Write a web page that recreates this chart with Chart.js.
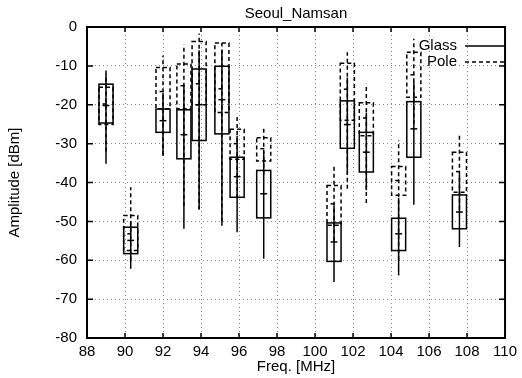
<!DOCTYPE html>
<html>
<head>
<meta charset="utf-8">
<script src="https://cdn.jsdelivr.net/npm/chart.js@4.4.1/dist/chart.umd.min.js"></script>
<style>
  html, body { margin: 0; padding: 0; background: #fff; }
  #wrap { width: 522px; height: 378px; }
</style>
</head>
<body>
<div id="wrap"><canvas id="chart"></canvas></div>
<script>
// station frequencies (MHz)
const freqs = [89.0, 90.3, 92.0, 93.1, 93.9, 95.1, 95.9, 97.3, 101.0, 101.7, 102.7, 104.4, 105.2, 107.6];

// Glass (solid boxes)
const glassLow  = [-35.2, -62.2, -33.1, -51.9, -46.8, -51.1, -52.8, -59.6, -65.6, -38.0, -42.0, -63.9, -45.7, -56.6];
const glassQ1   = [-24.7, -58.3, -27.1, -33.9, -29.2, -27.5, -43.8, -49.1, -60.3, -31.2, -37.3, -57.5, -33.5, -51.9];
const glassMed  = [-20.2, -54.9, -24.1, -27.7, -20.0, -18.7, -38.5, -42.9, -55.3, -25.1, -32.2, -53.2, -26.2, -47.6];
const glassQ3   = [-14.7, -51.5, -21.1, -21.3, -10.8, -10.1, -33.5, -36.9, -50.4, -19.0, -27.1, -49.2, -19.2, -43.2];
const glassHigh = [-11.2, -50.0, -17.0, -15.0,  -6.0,  -6.0, -28.0, -32.0, -46.0, -13.0, -22.0, -44.0, -14.0, -38.0];

// Pole (dashed boxes)
const poleLow  = [-32.0, -60.0, -33.0, -46.0, -47.0, -50.0, -44.0, -38.0, -55.0, -41.6, -45.3, -60.0, -25.0, -47.0];
const poleQ1   = [-25.1, -57.5, -21.0, -21.0, -20.0, -22.0, -34.0, -34.5, -51.0, -24.0, -28.0, -43.3, -18.1, -42.5];
const poleMed  = [-19.8, -53.2, -16.6, -15.1, -14.6, -15.9, -30.0, -31.3, -45.5, -16.0, -23.4, -39.5, -12.3, -37.2];
const poleQ3   = [-15.5, -48.5, -10.4,  -9.5,  -3.7,  -4.1, -26.3, -28.5, -40.8,  -9.3, -19.5, -35.9,  -6.5, -32.2];
const poleHigh = [-12.0, -41.2,  -7.3,  -4.5,  -1.7,  -4.1, -22.3, -25.8, -35.6,  -6.5, -14.6, -29.2,  -3.0, -27.9];

const xTicks = [88, 90, 92, 94, 96, 98, 100, 102, 104, 106, 108, 110];
const yTicks = [0, -10, -20, -30, -40, -50, -60, -70, -80];

function makeStats(low, q1, med, q3, high) {
  return freqs.map((f, i) => ({ x: f, low: low[i], q1: q1[i], med: med[i], q3: q3[i], high: high[i] }));
}

const FONT = 'Liberation Sans, Arial, Helvetica, sans-serif';

// draws the candlestick boxes using the chart scales
const boxPlot = {
  id: 'boxPlot',
  afterDatasetsDraw(chart) {
    const ctx = chart.ctx;
    const xs = chart.scales.x, ys = chart.scales.y;
    chart.data.datasets.forEach(ds => {
      ctx.save();
      ctx.strokeStyle = '#000';
      ctx.lineWidth = 1.5;
      ctx.setLineDash(ds.borderDash || []);
      ds.stats.forEach(s => {
        const xc = xs.getPixelForValue(s.x);
        const xl = xs.getPixelForValue(s.x - 0.37);
        const xr = xs.getPixelForValue(s.x + 0.37);
        const tl = xs.getPixelForValue(s.x - 0.18);
        const tr = xs.getPixelForValue(s.x + 0.18);
        const yLow = ys.getPixelForValue(s.low);
        const yHigh = ys.getPixelForValue(s.high);
        const y1 = ys.getPixelForValue(s.q1);
        const y3 = ys.getPixelForValue(s.q3);
        const ym = ys.getPixelForValue(s.med);
        ctx.beginPath();
        ctx.moveTo(xc, yLow); ctx.lineTo(xc, yHigh);
        ctx.stroke();
        ctx.strokeRect(xl, y3, xr - xl, y1 - y3);
        ctx.beginPath();
        ctx.moveTo(tl, ym); ctx.lineTo(tr, ym);
        ctx.stroke();
      });
      ctx.restore();
    });
  },
  afterDraw(chart) {
    const ctx = chart.ctx;
    const a = chart.chartArea;
    const xs = chart.scales.x, ys = chart.scales.y;
    ctx.save();
    ctx.strokeStyle = '#000';
    ctx.lineWidth = 2;
    ctx.strokeRect(a.left, a.top, a.right - a.left, a.bottom - a.top);
    // inward tick marks on all four sides
    ctx.lineWidth = 1.5;
    ctx.beginPath();
    xTicks.forEach(v => {
      const x = xs.getPixelForValue(v);
      ctx.moveTo(x, a.bottom); ctx.lineTo(x, a.bottom - 5);
      ctx.moveTo(x, a.top); ctx.lineTo(x, a.top + 5);
    });
    yTicks.forEach(v => {
      const y = ys.getPixelForValue(v);
      ctx.moveTo(a.left, y); ctx.lineTo(a.left + 6, y);
      ctx.moveTo(a.right, y); ctx.lineTo(a.right - 6, y);
    });
    ctx.stroke();

    // title
    ctx.fillStyle = '#000';
    ctx.font = '15px ' + FONT;
    ctx.textAlign = 'center';
    ctx.textBaseline = 'middle';
    ctx.fillText('Seoul_Namsan', (a.left + a.right) / 2, 14);

    // legend
    ctx.textAlign = 'right';
    chart.data.datasets.forEach((ds, i) => {
      const y = 46 + i * 16;
      ctx.fillText(ds.label, 457, y);
      ctx.save();
      ctx.lineWidth = 1.4;
      ctx.setLineDash(ds.borderDash || []);
      ctx.beginPath();
      ctx.moveTo(465, y); ctx.lineTo(505, y);
      ctx.stroke();
      ctx.restore();
    });
    ctx.restore();
  }
};

new Chart(document.getElementById('chart'), {
  type: 'scatter',
  data: {
    datasets: [
      {
        label: 'Glass',
        data: freqs.map((f, i) => ({ x: f, y: glassMed[i] })),
        stats: makeStats(glassLow, glassQ1, glassMed, glassQ3, glassHigh),
        borderDash: [],
        pointRadius: 0,
        showLine: false
      },
      {
        label: 'Pole',
        data: freqs.map((f, i) => ({ x: f, y: poleMed[i] })),
        stats: makeStats(poleLow, poleQ1, poleMed, poleQ3, poleHigh),
        borderDash: [4, 3],
        pointRadius: 0,
        showLine: false
      }
    ]
  },
  options: {
    responsive: true,
    maintainAspectRatio: false,
    animation: false,
    events: [],
    layout: { padding: { left: 0, right: 10, top: 27, bottom: 0 } },
    plugins: { legend: { display: false }, tooltip: { enabled: false } },
    scales: {
      x: {
        type: 'linear',
        min: 88, max: 110,
        afterBuildTicks: s => { s.ticks = xTicks.map(v => ({ value: v })); },
        afterFit: s => { s.height = 40; },
        grid: { color: '#8a8a8a', lineWidth: 1, drawTicks: false },
        border: { display: false, dash: [1, 3] },
        ticks: { color: '#000', font: { family: FONT, size: 15 }, padding: 5, maxRotation: 0 },
        title: { display: true, text: 'Freq. [MHz]', color: '#000', font: { family: FONT, size: 15 }, padding: { top: 0, bottom: 2 } }
      },
      y: {
        type: 'linear',
        min: -80, max: 0,
        afterBuildTicks: s => { s.ticks = yTicks.map(v => ({ value: v })); },
        afterFit: s => { s.width = 87; },
        grid: { color: '#8a8a8a', lineWidth: 1, drawTicks: false },
        border: { display: false, dash: [1, 3] },
        ticks: { color: '#000', font: { family: FONT, size: 15 }, padding: 10 },
        title: { display: true, text: 'Amplitude [dBm]', color: '#000', font: { family: FONT, size: 15 }, padding: { top: 6, bottom: 0 } }
      }
    }
  },
  plugins: [boxPlot]
});
</script>
</body>
</html>
